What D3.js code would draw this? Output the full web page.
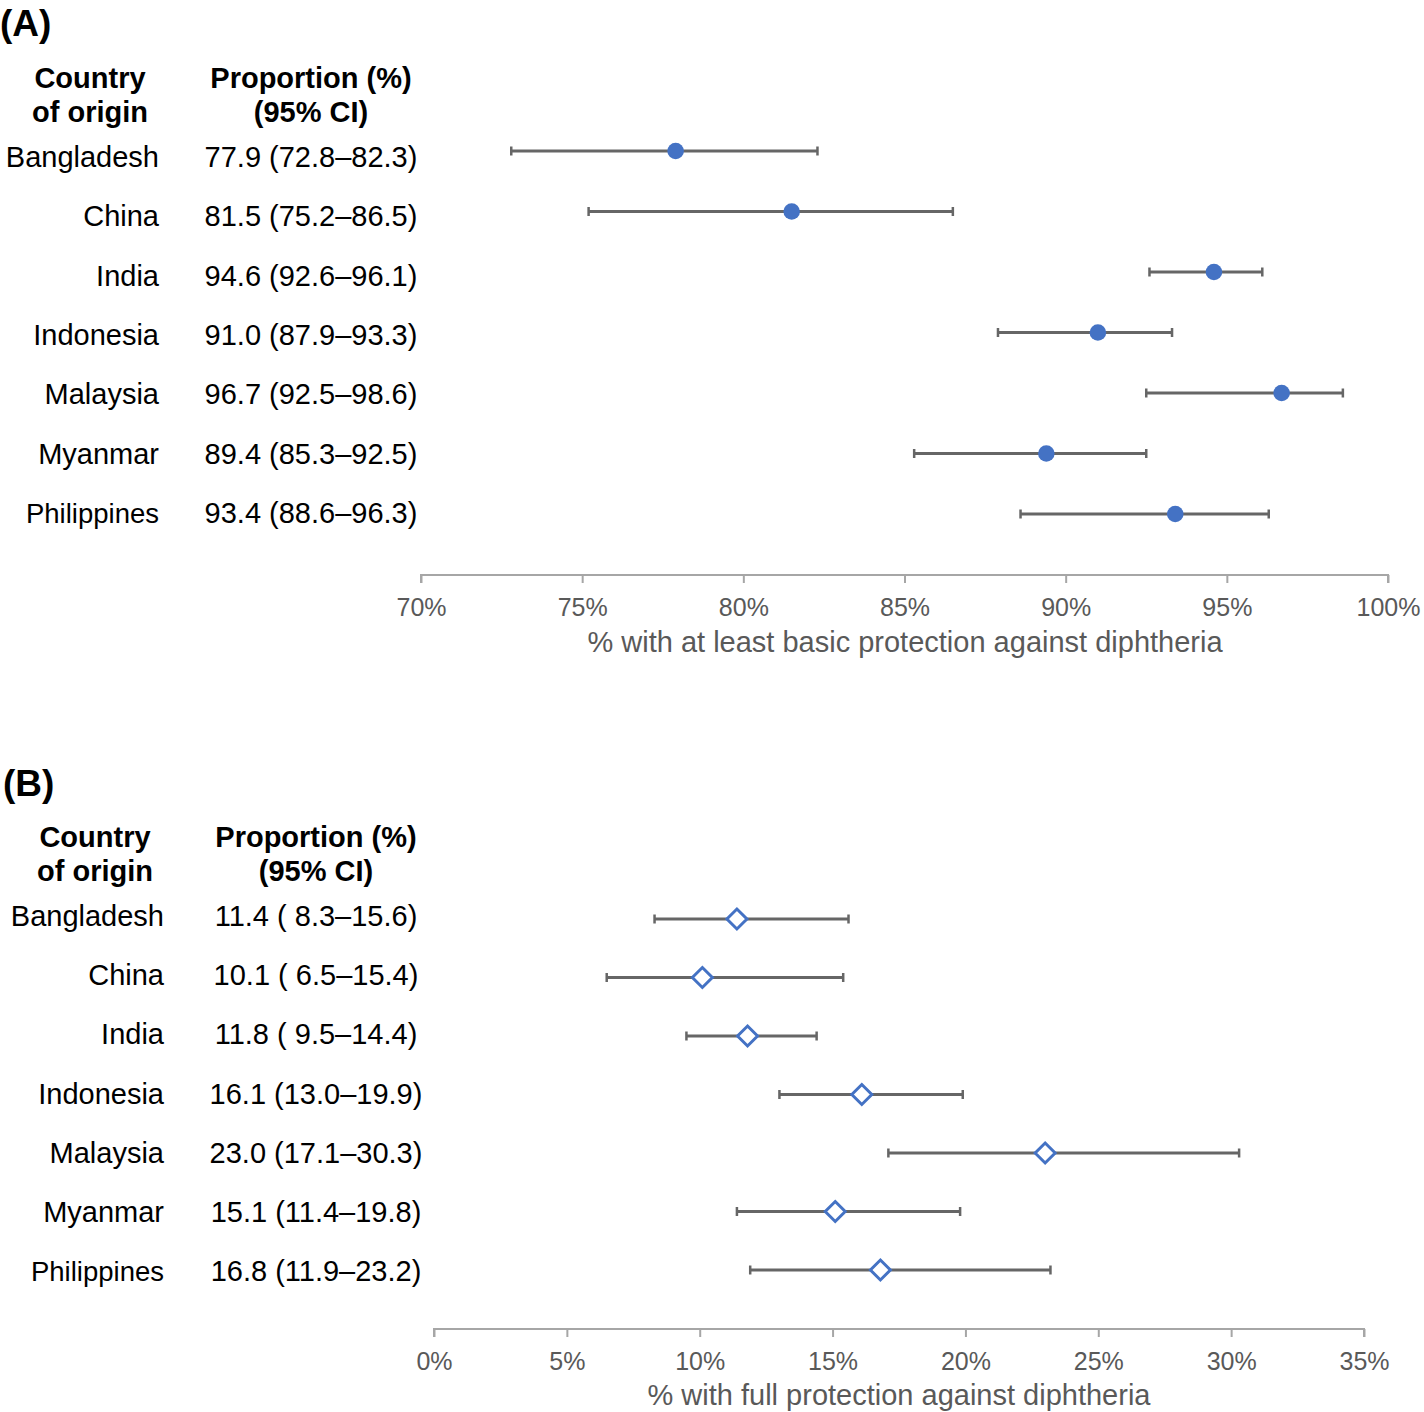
<!DOCTYPE html>
<html><head><meta charset="utf-8">
<script src="https://cdn.jsdelivr.net/npm/d3@7"></script>
<style>
body{margin:0;background:#fff;}
svg{display:block;font-family:"Liberation Sans",Arial,Helvetica,sans-serif;}
</style></head>
<body>
<svg id="chart" width="1424" height="1412"></svg>
<script>
const countries = ["Bangladesh","China","India","Indonesia","Malaysia","Myanmar","Philippines"];
const basicEst = [77.9, 81.5, 94.6, 91.0, 96.7, 89.4, 93.4];
const basicLo  = [72.8, 75.2, 92.6, 87.9, 92.5, 85.3, 88.6];
const basicHi  = [82.3, 86.5, 96.1, 93.3, 98.6, 92.5, 96.3];
const basicLabels = ["77.9 (72.8–82.3)","81.5 (75.2–86.5)","94.6 (92.6–96.1)","91.0 (87.9–93.3)","96.7 (92.5–98.6)","89.4 (85.3–92.5)","93.4 (88.6–96.3)"];
const fullEst = [11.4, 10.1, 11.8, 16.1, 23.0, 15.1, 16.8];
const fullLo  = [8.3, 6.5, 9.5, 13.0, 17.1, 11.4, 11.9];
const fullHi  = [15.6, 15.4, 14.4, 19.9, 30.3, 19.8, 23.2];
const fullLabels = ["11.4 ( 8.3–15.6)","10.1 ( 6.5–15.4)","11.8 ( 9.5–14.4)","16.1 (13.0–19.9)","23.0 (17.1–30.3)","15.1 (11.4–19.8)","16.8 (11.9–23.2)"];
const basicTicks = [70,75,80,85,90,95,100];
const fullTicks = [0,5,10,15,20,25,30,35];

const svg = d3.select("#chart");
const blue = "#4472C4", barCol = "#666666", axisCol = "#a6a6a6", tickTxt = "#595959";

function panel(cfg){
  const g = svg.append("g");
  const x = d3.scaleLinear().domain(cfg.domain).range(cfg.xr);
  const y = d3.scalePoint().domain(countries).range(cfg.yr);
  const yt = d3.scalePoint().domain(countries).range(cfg.ytr);
  g.append("text").attr("x", cfg.letterX).attr("y", cfg.letterY).attr("font-size",37).attr("font-weight","bold").text(cfg.letter);
  [["Country", cfg.h1x, 0],["of origin", cfg.h1x, 1],["Proportion (%)", cfg.h2x, 0],["(95% CI)", cfg.h2x, 1]].forEach(h=>{
    g.append("text").attr("x",h[1]).attr("y",cfg.hy + h[2]*34).attr("text-anchor","middle")
     .attr("font-size",29).attr("font-weight","bold").attr("fill","#000").text(h[0]);
  });
  g.selectAll(".cl").data(countries).join("text").attr("class","cl")
   .attr("x",cfg.cx).attr("y",d=>yt(d)).attr("dy","0.35em").attr("text-anchor","end")
   .attr("font-size",d=>d==="Philippines"?27.5:29).text(d=>d);
  g.selectAll(".vl").data(cfg.labels).join("text").attr("class","vl")
   .attr("x",cfg.vx).attr("y",(d,i)=>yt(countries[i])).attr("dy","0.35em").attr("text-anchor","middle")
   .attr("font-size",29).style("white-space","pre").attr("xml:space","preserve").text(d=>d);
  const rows = countries.map((c,i)=>({c, est:cfg.est[i], lo:cfg.lo[i], hi:cfg.hi[i]}));
  g.selectAll(".eb").data(rows).join("line").attr("stroke",barCol).attr("stroke-width",2.8)
   .attr("x1",d=>x(d.lo)).attr("x2",d=>x(d.hi)).attr("y1",d=>y(d.c)).attr("y2",d=>y(d.c));
  ["lo","hi"].forEach(k=>{
    g.selectAll(".cap"+k).data(rows).join("line").attr("stroke",barCol).attr("stroke-width",2.5)
     .attr("x1",d=>x(d[k])).attr("x2",d=>x(d[k])).attr("y1",d=>y(d.c)-4.5).attr("y2",d=>y(d.c)+4.5);
  });
  if(cfg.marker==="dot"){
    g.selectAll(".pt").data(rows).join("circle").attr("cx",d=>x(d.est)).attr("cy",d=>y(d.c)).attr("r",8.3).attr("fill",blue);
  } else {
    const s = 10;
    g.selectAll(".pt").data(rows).join("path")
     .attr("d",d=>{const cx=x(d.est), cy=y(d.c); return `M${cx},${cy-s}L${cx+s},${cy}L${cx},${cy+s}L${cx-s},${cy}Z`;})
     .attr("fill","#fff").attr("stroke",blue).attr("stroke-width",3);
  }
  const ax = g.append("g").attr("transform",`translate(0,${cfg.axisY})`)
    .call(d3.axisBottom(x).tickValues(cfg.ticks).tickSize(8).tickPadding(15).tickFormat(d=>d+"%"));
  ax.select(".domain").attr("stroke",axisCol).attr("stroke-width",2).attr("d",`M${cfg.xr[0]},8V0H${cfg.xr[1]}V8`);
  ax.selectAll(".tick line").attr("stroke",axisCol).attr("stroke-width",2);
  ax.selectAll(".tick text").attr("fill",tickTxt).attr("font-size",25).attr("font-family","Liberation Sans, Arial, sans-serif");
  g.append("text").attr("x",cfg.titleX).attr("y",cfg.titleY).attr("text-anchor","middle")
   .attr("font-size",29).attr("fill",tickTxt).text(cfg.title);
}

panel({letter:"(A)", letterX:0, letterY:36, hy:88, h1x:90, h2x:311, cx:159, vx:311,
  domain:[70,100], xr:[421,1388], yr:[151,514], ytr:[157,513], axisY:575,
  est:basicEst, lo:basicLo, hi:basicHi, labels:basicLabels, ticks:basicTicks, marker:"dot",
  title:"% with at least basic protection against diphtheria", titleX:905, titleY:652});
panel({letter:"(B)", letterX:3, letterY:796, hy:847, h1x:95, h2x:316, cx:164, vx:316,
  domain:[0,35], xr:[434,1364], yr:[919,1270], ytr:[916,1271], axisY:1329,
  est:fullEst, lo:fullLo, hi:fullHi, labels:fullLabels, ticks:fullTicks, marker:"diamond",
  title:"% with full protection against diphtheria", titleX:899, titleY:1405});
</script>
</body></html>
